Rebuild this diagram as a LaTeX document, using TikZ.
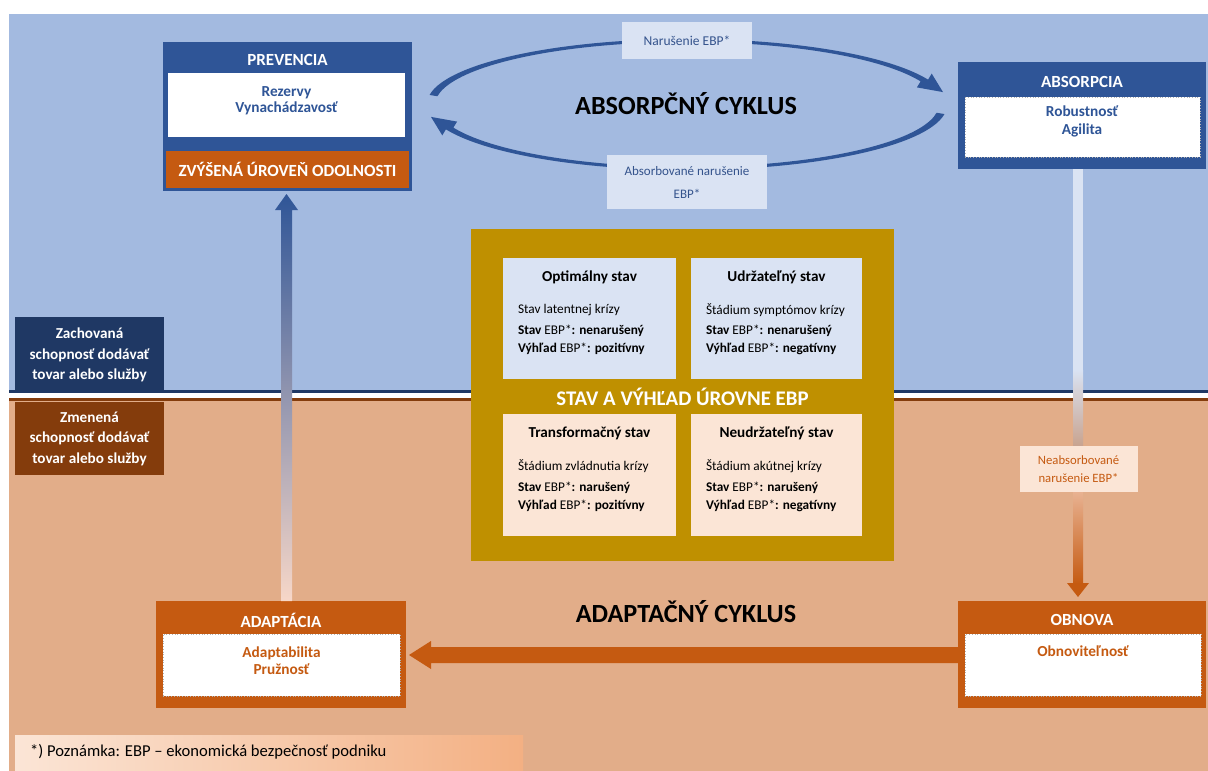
\documentclass[tikz,border=0pt]{standalone}
\usepackage{fontspec}
\setmainfont{Carlito}
\usetikzlibrary{calc}
\definecolor{bgblue}{HTML}{A3BAE0}
\definecolor{bgorange}{HTML}{E2AD89}
\definecolor{dkblue}{HTML}{2F5597}
\definecolor{navy}{HTML}{1F3864}
\definecolor{brownc}{HTML}{843C0C}
\definecolor{orng}{HTML}{C55A11}
\definecolor{gold}{HTML}{BF9000}
\definecolor{ltblue}{HTML}{DAE3F3}
\definecolor{peach}{HTML}{FBE5D6}
\definecolor{apricot}{HTML}{F3B083}
\definecolor{lbltext}{HTML}{34538C}
\definecolor{armid}{HTML}{D8D8E8}
\definecolor{arbot}{HTML}{F7D7C8}
\begin{document}
\begin{tikzpicture}[x=1pt,y=-1pt,
  every node/.style={inner sep=0pt,outer sep=0pt},
  panel/.style={rectangle,fill=#1},
  inbox/.style={rectangle,fill=white,draw=black!30,dotted,line width=0.7pt},
  ttl/.style={font=\bfseries\fontsize{17}{20}\selectfont,text=white},
  intxt/.style={font=\bfseries\fontsize{15.3}{17}\selectfont,text=#1,align=center},
  cyc/.style={font=\bfseries\fontsize{26.2}{30}\selectfont,text=black},
  qttl/.style={font=\bfseries\fontsize{15.2}{18}\selectfont,text=black},
  qbody/.style={font=\fontsize{13.3}{18}\selectfont,text=black,align=left},
  side/.style={font=\bfseries\fontsize{15.2}{20.5}\selectfont,text=white,align=center},
  lbl/.style={rectangle,fill=#1,font=\fontsize{13.5}{23}\selectfont,align=center}
]
\useasboundingbox (0,0) rectangle (1208,771);
% backgrounds
\fill[white] (0,0) rectangle (1208,771);
\fill[bgblue] (9,14) rectangle (1208,391);
\fill[navy] (9,390) rectangle (1208,393);
\fill[bgorange] (9,398) rectangle (1208,771);
\fill[brownc] (9,398) rectangle (1208,401);

% absorption cycle arcs
\fill[dkblue] (687,104) ++(188:260 and 65)
  arc[start angle=188,end angle=338,x radius=260,y radius=65]
  -- (931.7,73.6) -- (943,92.1) -- (916.9,87.4) -- (920.6,81.4)
  arc[start angle=338,end angle=188,x radius=252,y radius=63] -- cycle;
\fill[dkblue] (687,105) ++(8:260 and 65)
  arc[start angle=8,end angle=158,x radius=260,y radius=65]
  -- (442.3,135.4) -- (431,116.9) -- (457.1,121.6) -- (453.4,127.6)
  arc[start angle=158,end angle=8,x radius=252,y radius=63] -- cycle;
\node[cyc] (abscyc) at (686,104) {ABSORPČNÝ CYKLUS};
\node[lbl=ltblue,text=lbltext,minimum width=130pt,minimum height=37pt] (nar) at (687,40.5) {Narušenie EBP*};
\node[lbl=ltblue,text=lbltext,font=\fontsize{13}{23}\selectfont,minimum width=160pt,minimum height=54pt] (absn) at (687,182) {Absorbované narušenie\\EBP*};

% PREVENCIA
\node[panel=dkblue,minimum width=249pt,minimum height=149pt] (prev) at (287.5,116.5) {};
\node[rectangle,fill=white,minimum width=237pt,minimum height=64pt] (previn) at (286.5,105) {};
\node[panel=orng,minimum width=243pt,minimum height=37pt] (odol) at (287.5,169.5) {};
\node[ttl] at (287.5,60) {PREVENCIA};
\node[intxt=dkblue] at (286.5,100.5) {Rezervy\\[-1pt]Vynachádzavosť};
\node[font=\bfseries\fontsize{17}{20}\selectfont,text=white] at (odol.center) {ZVÝŠENÁ ÚROVEŇ ODOLNOSTI};

% ABSORPCIA
\node[panel=dkblue,minimum width=248pt,minimum height=107pt] (absb) at (1082,115.5) {};
\node[inbox,minimum width=235pt,minimum height=60pt] (absin) at (1082.5,127) {};
\node[ttl] at (1082,82) {ABSORPCIA};
\node[intxt=dkblue] at (1082,121) {Robustnosť\\[1pt]Agilita};

% ADAPTACIA
\node[panel=orng,minimum width=250pt,minimum height=107pt] (adapt) at (281,654.5) {};
\node[inbox,minimum width=237pt,minimum height=62pt] (adin) at (281.5,665) {};
\node[ttl] at (281,620) {ADAPTÁCIA};
\node[intxt=orng] at (281.5,660.5) {Adaptabilita\\[0pt]Pružnosť};

% OBNOVA
\node[panel=orng,minimum width=248pt,minimum height=107pt] (obn) at (1082,654.5) {};
\node[inbox,minimum width=236pt,minimum height=62pt] (obin) at (1083,665) {};
\node[ttl] at (1082,620) {OBNOVA};
\node[intxt=orng] at (1083,651) {Obnoviteľnosť};

\node[cyc] (adcyc) at (686,612) {ADAPTAČNÝ CYKLUS};

% left vertical arrow (adaptation -> prevention)
\coordinate (la1) at ($(prev.south)+(-1,3)$);
\coordinate (la0) at (la1 |- adapt.north);
\shade[top color=dkblue,middle color=armid,bottom color=arbot]
  ($(la0)+(-5.5,0)$) -- ($(la1)+(-5.5,16)$) -- ($(la1)+(-11.5,16)$) -- (la1)
  -- ($(la1)+(11.5,16)$) -- ($(la1)+(5.5,16)$) -- ($(la0)+(5.5,0)$) -- cycle;

% right vertical arrow (absorption -> renewal)
\node[lbl=peach,minimum width=118pt,minimum height=46pt] (neab) at (1078.5,469) {};
\coordinate (ra0) at ($(absb.south)+(-4,0)$);
\coordinate (ra1) at (ra0 |- neab.north);
\fill[ltblue] ($(ra0)+(-5,0)$) rectangle ($(ra1)+(5,-75)$);
\shade[top color=ltblue,bottom color=black!12!arbot!80!brownc] ($(ra1)+(-5,-76)$) rectangle ($(ra1)+(5,0)$);
\coordinate (rtip) at ($(obn.north)+(-4,-4)$);
\coordinate (rb) at (rtip |- neab.south);
\shade[top color=arbot!70!orng,bottom color=orng] ($(rb)+(-5,0)$) rectangle ($(rtip)+(5,-13)$);
\fill[orng] ($(rtip)+(-11,-14)$) -- (rtip) -- ($(rtip)+(11,-14)$) -- cycle;
\node[lbl=peach,text=orng,font=\fontsize{12.7}{18}\selectfont,minimum width=118pt,minimum height=46pt] at (neab.center) {Neabsorbované\\narušenie EBP*};

% horizontal arrow (renewal -> adaptation)
\coordinate (htip) at ($(adapt.east)+(3,0.5)$);
\fill[orng] ($(obn.west)+(0,-7.5)$) -- ($(htip)+(22,-8)$) -- ($(htip)+(22,-14)$) -- (htip)
  -- ($(htip)+(22,14)$) -- ($(htip)+(22,8)$) -- ($(obn.west)+(0,8.5)$) -- cycle;

% central EBP state box
\node[panel=gold,minimum width=423pt,minimum height=332pt] (ebp) at (682.5,395) {};
\node[panel=ltblue,minimum width=173pt,minimum height=121pt] (q1) at (589.5,318.5) {};
\node[panel=ltblue,minimum width=171pt,minimum height=121pt] (q2) at (776.5,318.5) {};
\node[panel=peach,minimum width=173pt,minimum height=122pt] (q3) at (589.5,475) {};
\node[panel=peach,minimum width=171pt,minimum height=122pt] (q4) at (776.5,475) {};
\node[font=\bfseries\fontsize{20.8}{24}\selectfont,text=white] at (682.5,397) {STAV A VÝHĽAD ÚROVNE EBP};

\node[qttl] at ($(q1.north)+(0,19)$) {Optimálny stav};
\node[qbody,anchor=west] at ($(q1.north west)+(15,52)$) {Stav latentnej krízy};
\node[qbody,anchor=west] at ($(q1.north west)+(15,82)$) {\textbf{Stav} EBP*\textbf{: nenarušený}\\\textbf{Výhľad} EBP*\textbf{: pozitívny}};

\node[qttl] at ($(q2.north)+(0,19)$) {Udržateľný stav};
\node[qbody,anchor=west] at ($(q2.north west)+(15,52)$) {Štádium symptómov krízy};
\node[qbody,anchor=west] at ($(q2.north west)+(15,82)$) {\textbf{Stav} EBP*\textbf{: nenarušený}\\\textbf{Výhľad} EBP*\textbf{: negatívny}};

\node[qttl] at ($(q3.north)+(0,19)$) {Transformačný stav};
\node[qbody,anchor=west] at ($(q3.north west)+(15,52)$) {Štádium zvládnutia krízy};
\node[qbody,anchor=west] at ($(q3.north west)+(15,83)$) {\textbf{Stav} EBP*\textbf{: narušený}\\\textbf{Výhľad} EBP*\textbf{: pozitívny}};

\node[qttl] at ($(q4.north)+(0,19)$) {Neudržateľný stav};
\node[qbody,anchor=west] at ($(q4.north west)+(15,52)$) {Štádium akútnej krízy};
\node[qbody,anchor=west] at ($(q4.north west)+(15,83)$) {\textbf{Stav} EBP*\textbf{: narušený}\\\textbf{Výhľad} EBP*\textbf{: negatívny}};

% side labels
\node[panel=navy,minimum width=149pt,minimum height=74pt] (keep) at (89.5,354) {};
\node[side] at ($(keep.center)+(0,1)$) {Zachovaná\\schopnosť dodávať\\tovar alebo služby};
\node[panel=brownc,minimum width=149pt,minimum height=73pt] (chg) at (89.5,438.5) {};
\node[side] at (chg.center) {Zmenená\\schopnosť dodávať\\tovar alebo služby};

% footnote
\node[rectangle,left color=peach,right color=apricot,minimum width=508pt,minimum height=36pt] (note) at (269,753) {};
\node[anchor=west,font=\fontsize{16.6}{20}\selectfont,text=black] at ($(note.west)+(15,-1)$) {*) Poznámka: EBP – ekonomická bezpečnosť podniku};
\end{tikzpicture}
\end{document}
